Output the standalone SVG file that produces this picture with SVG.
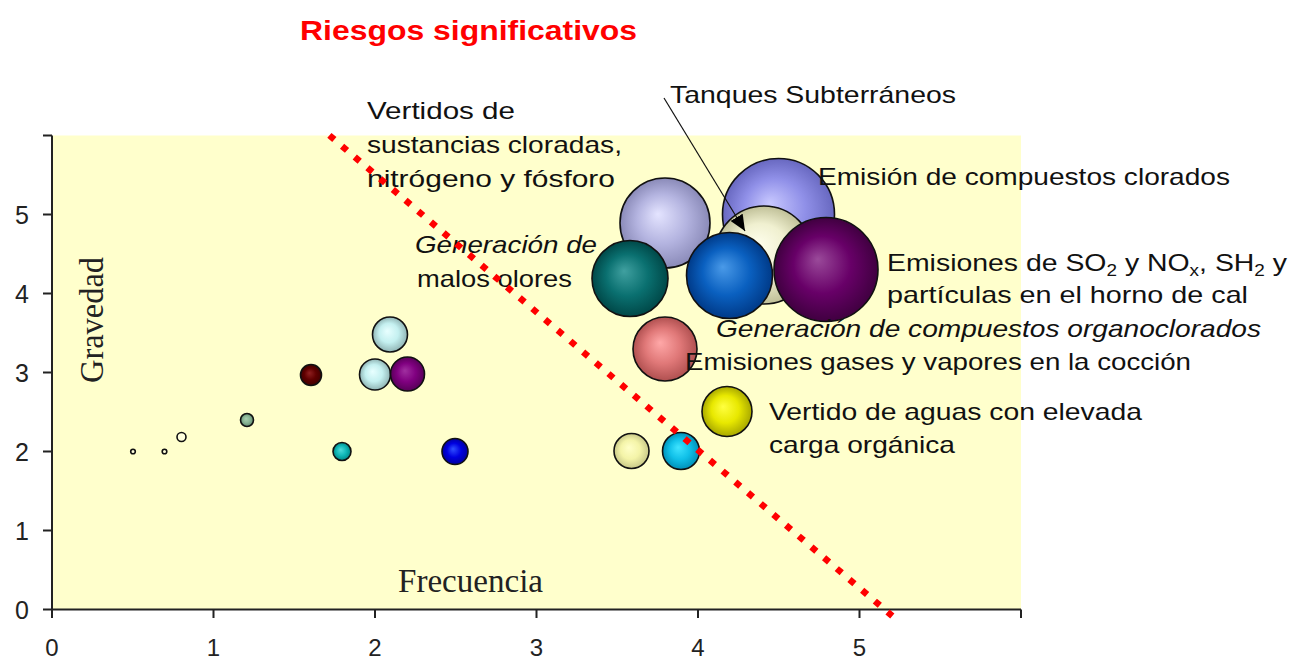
<svg xmlns="http://www.w3.org/2000/svg" width="1289" height="662" viewBox="0 0 1289 662">
<defs>
<style>
.lbl{font-family:"Liberation Sans","DejaVu Sans",sans-serif;font-size:24px;fill:#111}
.it{font-style:italic}
.tick{font-family:"Liberation Sans","DejaVu Sans",sans-serif;font-size:25px;fill:#222}
.xt{font-size:24px}
.ser{font-family:"Liberation Serif","DejaVu Serif",serif;font-size:33px;fill:#222}
.title{font-family:"Liberation Sans","DejaVu Sans",sans-serif;font-size:28px;font-weight:bold;fill:#ff0000}
.ax{stroke:#222;stroke-width:2;fill:none}
.b{stroke:#111;stroke-width:1.6}
.sub{font-size:16px}
</style>
<radialGradient id="gLav" fx="0.42" fy="0.4"><stop offset="0" stop-color="#e4e4ff"/><stop offset="0.55" stop-color="#b4b4e0"/><stop offset="1" stop-color="#8a8ab8"/></radialGradient>
<radialGradient id="gPeri" fx="0.42" fy="0.4"><stop offset="0" stop-color="#c8c8ff"/><stop offset="0.55" stop-color="#9090e8"/><stop offset="1" stop-color="#6868c0"/></radialGradient>
<radialGradient id="gCream" fx="0.42" fy="0.4"><stop offset="0" stop-color="#ffffee"/><stop offset="0.55" stop-color="#f0f0d0"/><stop offset="1" stop-color="#c0c098"/></radialGradient>
<radialGradient id="gTeal" fx="0.42" fy="0.4"><stop offset="0" stop-color="#40a0a0"/><stop offset="0.55" stop-color="#0a7070"/><stop offset="1" stop-color="#004848"/></radialGradient>
<radialGradient id="gRoyal" fx="0.42" fy="0.4"><stop offset="0" stop-color="#4a9ae8"/><stop offset="0.55" stop-color="#0a60c0"/><stop offset="1" stop-color="#003a88"/></radialGradient>
<radialGradient id="gPurp" fx="0.42" fy="0.4"><stop offset="0" stop-color="#9a4a9a"/><stop offset="0.55" stop-color="#680068"/><stop offset="1" stop-color="#400040"/></radialGradient>
<radialGradient id="gSalm" fx="0.42" fy="0.4"><stop offset="0" stop-color="#ffa8a8"/><stop offset="0.55" stop-color="#e07878"/><stop offset="1" stop-color="#b05050"/></radialGradient>
<radialGradient id="gYel" fx="0.42" fy="0.4"><stop offset="0" stop-color="#ffff40"/><stop offset="0.55" stop-color="#e8e800"/><stop offset="1" stop-color="#a8a800"/></radialGradient>
<radialGradient id="gSky" fx="0.42" fy="0.4"><stop offset="0" stop-color="#40e4ff"/><stop offset="0.55" stop-color="#10c0e8"/><stop offset="1" stop-color="#0090b8"/></radialGradient>
<radialGradient id="gPale" fx="0.42" fy="0.4"><stop offset="0" stop-color="#ffffc8"/><stop offset="0.55" stop-color="#f4f4a8"/><stop offset="1" stop-color="#c8c888"/></radialGradient>
<radialGradient id="gBlue" fx="0.42" fy="0.4"><stop offset="0" stop-color="#3050ff"/><stop offset="0.55" stop-color="#0000e0"/><stop offset="1" stop-color="#0000a0"/></radialGradient>
<radialGradient id="gTealS" fx="0.42" fy="0.4"><stop offset="0" stop-color="#50dada"/><stop offset="0.55" stop-color="#10b8b8"/><stop offset="1" stop-color="#008888"/></radialGradient>
<radialGradient id="gCyan" fx="0.42" fy="0.4"><stop offset="0" stop-color="#e8ffff"/><stop offset="0.55" stop-color="#c4f0f0"/><stop offset="1" stop-color="#90b4b4"/></radialGradient>
<radialGradient id="gPurpS" fx="0.42" fy="0.4"><stop offset="0" stop-color="#a030a0"/><stop offset="0.55" stop-color="#800080"/><stop offset="1" stop-color="#580058"/></radialGradient>
<radialGradient id="gMar" fx="0.42" fy="0.4"><stop offset="0" stop-color="#902020"/><stop offset="0.55" stop-color="#600000"/><stop offset="1" stop-color="#400000"/></radialGradient>
<radialGradient id="gGG" fx="0.42" fy="0.4"><stop offset="0" stop-color="#a8d0b0"/><stop offset="0.55" stop-color="#88b494"/><stop offset="1" stop-color="#608870"/></radialGradient>
<marker id="arr" markerUnits="userSpaceOnUse" markerWidth="18" markerHeight="14" refX="16" refY="7" orient="auto"><path d="M0,0 L16,7 L0,14 Z" fill="#000"/></marker>
</defs>
<rect x="0" y="0" width="1289" height="662" fill="#ffffff"/>
<g id="plot-area">
<rect x="52" y="135.5" width="969" height="474" fill="#ffffcc"/>
<path class="ax" d="M52,135.5 V609.5 H1021"/>
<path class="ax" d="M43,135.5 H52 M43,214.5 H52 M43,293.5 H52 M43,372.5 H52 M43,451.5 H52 M43,530.5 H52 M43,609.5 H52"/>
<path class="ax" d="M52,609.5 V618 M213.5,609.5 V618 M375,609.5 V618 M536.5,609.5 V618 M698,609.5 V618 M859.5,609.5 V618 M1021,609.5 V618"/>
</g>
<g id="axis-labels">
<text class="tick" x="29" y="224" text-anchor="end">5</text>
<text class="tick" x="29" y="303" text-anchor="end">4</text>
<text class="tick" x="29" y="382" text-anchor="end">3</text>
<text class="tick" x="29" y="461" text-anchor="end">2</text>
<text class="tick" x="29" y="540" text-anchor="end">1</text>
<text class="tick" x="29" y="619" text-anchor="end">0</text>
<text class="tick xt" x="52" y="656" text-anchor="middle">0</text>
<text class="tick xt" x="213.5" y="656" text-anchor="middle">1</text>
<text class="tick xt" x="375" y="656" text-anchor="middle">2</text>
<text class="tick xt" x="536.5" y="656" text-anchor="middle">3</text>
<text class="tick xt" x="698" y="656" text-anchor="middle">4</text>
<text class="tick xt" x="859.5" y="656" text-anchor="middle">5</text>
<text class="ser" x="398" y="592" textLength="145" lengthAdjust="spacingAndGlyphs">Frecuencia</text>
<text class="ser" transform="translate(103,383) rotate(-90)" x="0" y="0" textLength="126" lengthAdjust="spacingAndGlyphs">Gravedad</text>
</g>
<g id="title"><text class="title" x="300" y="40" textLength="337" lengthAdjust="spacingAndGlyphs">Riesgos significativos</text></g>
<g id="bubbles">
<g id="b-lavender"><circle class="b" cx="665" cy="223" r="45" fill="url(#gLav)"/></g>
<g id="b-periwinkle"><circle class="b" cx="778.5" cy="214.5" r="56" fill="url(#gPeri)"/></g>
<g id="b-cream"><circle class="b" cx="764" cy="255" r="49" fill="url(#gCream)"/></g>
<g id="b-teal"><circle class="b" cx="630" cy="278.5" r="38" fill="url(#gTeal)"/></g>
<g id="b-royal"><circle class="b" cx="729.5" cy="275.5" r="43" fill="url(#gRoyal)"/></g>
<g id="b-purple"><circle class="b" cx="826" cy="269.5" r="52" fill="url(#gPurp)"/></g>
<g id="b-salmon"><circle class="b" cx="665" cy="349" r="32" fill="url(#gSalm)"/></g>
<g id="b-yellow"><circle class="b" cx="727" cy="411.5" r="25" fill="url(#gYel)"/></g>
<g id="b-sky"><circle class="b" cx="681" cy="451" r="18.5" fill="url(#gSky)"/></g>
<g id="b-paleyellow"><circle class="b" cx="631.5" cy="451" r="17.5" fill="url(#gPale)"/></g>
<g id="b-blue"><circle class="b" cx="455" cy="451.5" r="13" fill="url(#gBlue)"/></g>
<g id="b-tealsmall"><circle class="b" cx="342" cy="451.5" r="9" fill="url(#gTealS)"/></g>
<g id="b-cyan1"><circle class="b" cx="390" cy="334.5" r="17.5" fill="url(#gCyan)"/></g>
<g id="b-cyan2"><circle class="b" cx="375" cy="374.5" r="15.5" fill="url(#gCyan)"/></g>
<g id="b-purplesmall"><circle class="b" cx="407.5" cy="374" r="17" fill="url(#gPurpS)"/></g>
<g id="b-maroon"><circle class="b" cx="311" cy="375" r="10.5" fill="url(#gMar)"/></g>
<g id="b-greygreen"><circle class="b" cx="247" cy="420" r="6.5" fill="url(#gGG)"/></g>
<g id="b-small"><circle class="b" cx="181.5" cy="437" r="4.5" fill="#ffffdd"/></g>
<g id="b-tiny1"><circle class="b" cx="133" cy="451.5" r="2.3" fill="#ffffdd" stroke-width="1.2"/></g>
<g id="b-tiny2"><circle class="b" cx="164.5" cy="451.5" r="2.3" fill="#ffffdd" stroke-width="1.2"/></g>
</g>
<g id="labels">
<g id="l-vertidos">
<text class="lbl" x="367" y="119" textLength="148" lengthAdjust="spacingAndGlyphs">Vertidos de</text>
<text class="lbl" x="367" y="153" textLength="255" lengthAdjust="spacingAndGlyphs">sustancias cloradas,</text>
<text class="lbl" x="367" y="187" textLength="248" lengthAdjust="spacingAndGlyphs">nitrógeno y fósforo</text>
</g>
<g id="l-olores">
<text class="lbl it" x="415" y="253" textLength="182" lengthAdjust="spacingAndGlyphs">Generación de</text>
<text class="lbl" x="417" y="287" textLength="155" lengthAdjust="spacingAndGlyphs">malos olores</text>
</g>
<g id="l-tanques"><text class="lbl" x="670" y="103" textLength="286" lengthAdjust="spacingAndGlyphs">Tanques Subterráneos</text></g>
<g id="l-clorados"><text class="lbl" x="818" y="185" textLength="412" lengthAdjust="spacingAndGlyphs">Emisión de compuestos clorados</text></g>
<g id="l-so2">
<text class="lbl" x="887" y="271" textLength="400" lengthAdjust="spacingAndGlyphs">Emisiones de SO<tspan class="sub" dy="5">2</tspan><tspan dy="-5"> y NO</tspan><tspan class="sub" dy="5">x</tspan><tspan dy="-5">, SH</tspan><tspan class="sub" dy="5">2</tspan><tspan dy="-5"> y</tspan></text>
<text class="lbl" x="887" y="303" textLength="361" lengthAdjust="spacingAndGlyphs">partículas en el horno de cal</text>
</g>
<g id="l-organo"><text class="lbl it" x="716" y="337" textLength="545" lengthAdjust="spacingAndGlyphs">Generación de compuestos organoclorados</text></g>
<g id="l-gases"><text class="lbl" x="685" y="370" textLength="506" lengthAdjust="spacingAndGlyphs">Emisiones gases y vapores en la cocción</text></g>
<g id="l-aguas">
<text class="lbl" x="769" y="420" textLength="373" lengthAdjust="spacingAndGlyphs">Vertido de aguas con elevada</text>
<text class="lbl" x="769" y="453" textLength="186" lengthAdjust="spacingAndGlyphs">carga orgánica</text>
</g>
</g>
<g id="connectors">
<line x1="664" y1="98" x2="745" y2="231" stroke="#111" stroke-width="1.2" marker-end="url(#arr)"/>
</g>
<g id="trend-line">
<line x1="329.4" y1="135.35" x2="892.3" y2="616" stroke="#ff0000" stroke-width="6.5" stroke-dasharray="6.5 10.18"/>
</g>
</svg>
